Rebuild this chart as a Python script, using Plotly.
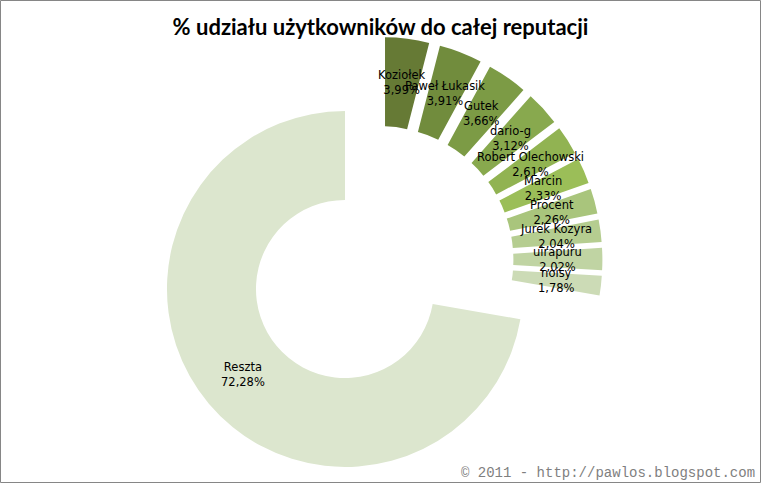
import numpy as np
import plotly.graph_objects as go

# ---- data ----
names = ["Koziołek", "Paweł Łukasik", "Gutek", "dario-g", "Robert Olechowski",
         "Marcin", "Procent", "Jurek Kozyra", "uirapuru", "noisy", "Reszta"]
values = [3.99, 3.91, 3.66, 3.12, 2.61, 2.33, 2.26, 2.04, 2.02, 1.78, 72.28]
labels_pct = ["3,99%", "3,91%", "3,66%", "3,12%", "2,61%", "2,33%", "2,26%",
              "2,04%", "2,02%", "1,78%", "72,28%"]
colors = ["#667A35", "#718C3D", "#7C9B45", "#88A94E", "#91B352", "#9BBE58",
          "#A9C57C", "#B5CD90", "#C0D4A3", "#CCDBB6", "#DCE6CE"]

title = "% udziału użytkowników do całej reputacji"
footer = "© 2011 - http://pawlos.blogspot.com"

# ---- layout geometry (pixels) ----
W, H = 761, 483
R = 178.0          # outer radius
HOLE = 0.5
PULL = 45.0 / R
S = R * (1 + PULL)  # half size of pie domain
cx, cy = 379.4, 260.0

dom_x = [(cx - S) / W, (cx + S) / W]
dom_y = [max(0.0, (H - (cy + S)) / H), (H - (cy - S)) / H]

fig = go.Figure()
fig.add_trace(go.Pie(
    labels=names, values=values, sort=False, direction="clockwise", rotation=0,
    hole=HOLE, pull=[PULL] * len(values),
    marker=dict(colors=colors, line=dict(width=0)),
    textinfo="none", hoverinfo="label+percent", showlegend=False,
    domain=dict(x=dom_x, y=dom_y),
))

# labels at the middle of each (pulled) slice
vals = np.array(values, dtype=float)
frac = vals / vals.sum()
cum = np.concatenate([[0.0], np.cumsum(frac)[:-1]])
mid = (cum + frac / 2) * 2 * np.pi
rlab = PULL * R + R * (1 + HOLE) / 2
annotations = []
for n, p, a in zip(names, labels_pct, mid):
    px = cx + rlab * np.sin(a)
    py = cy - rlab * np.cos(a)
    annotations.append(dict(
        x=px / W, y=1 - py / H, xref="paper", yref="paper",
        text=f"{n}<br>{p}", showarrow=False, xanchor="center", yanchor="middle",
        font=dict(family="DejaVu Sans", size=11.5, color="#000000"),
    ))

annotations.append(dict(
    x=757 / W, y=1 - 473 / H, xref="paper", yref="paper", text=footer,
    showarrow=False, xanchor="right", yanchor="middle",
    font=dict(family="Liberation Mono", size=14, color="#7F7F7F"),
))

fig.update_layout(
    width=W, height=H,
    margin=dict(l=0, r=0, t=0, b=0),
    paper_bgcolor="white", plot_bgcolor="white",
    title=dict(text=title, x=0.5, xanchor="center", y=1 - 27 / H, yanchor="middle",
               yref="container",
               font=dict(family="Lato", size=22, color="#000000", weight="bold")),
    annotations=annotations,
    shapes=[dict(type="rect", xref="paper", yref="paper",
                 x0=0.5 / W, x1=1 - 0.5 / W, y0=0.5 / H, y1=1 - 0.5 / H,
                 line=dict(color="#868686", width=1), fillcolor="rgba(0,0,0,0)")],
)

fig.write_html("out.html")
